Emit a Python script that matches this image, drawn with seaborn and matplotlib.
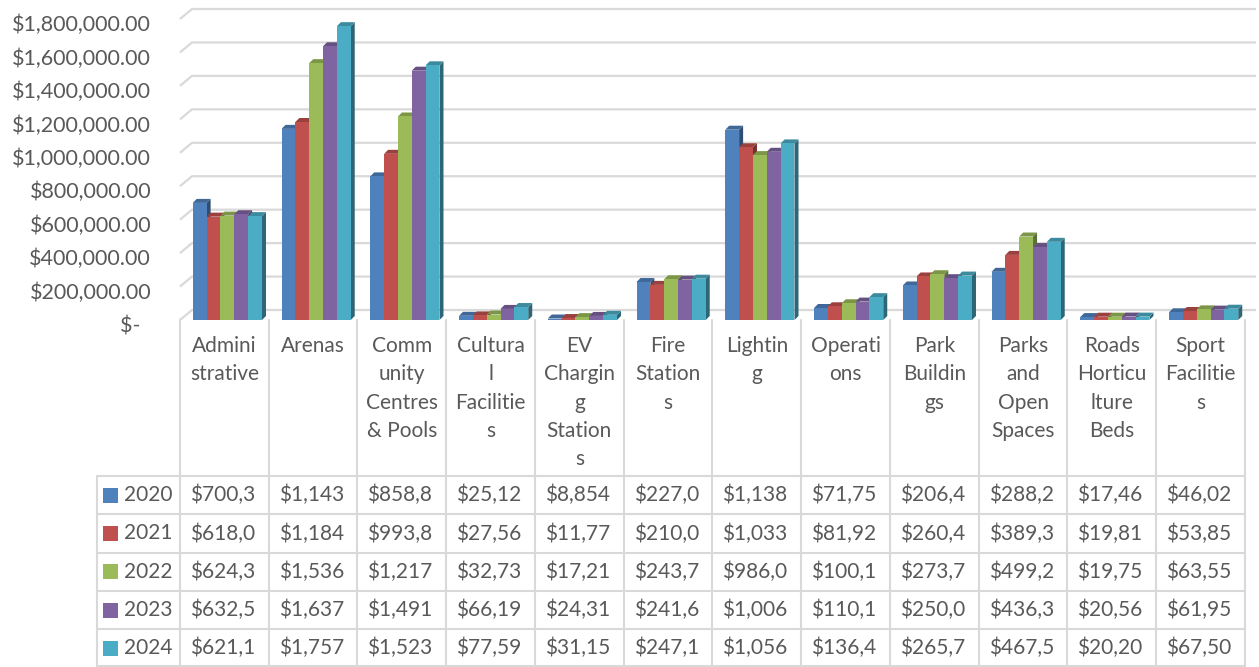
import numpy as np
import pandas as pd
import seaborn as sns
import matplotlib
matplotlib.use("Agg")
import matplotlib.pyplot as plt
from matplotlib.patches import Polygon, Rectangle
import matplotlib.transforms as mtransforms
import matplotlib.colors as mcolors

# ---------------- data ----------------
categories = ["Administrative", "Arenas", "Community Centres & Pools", "Cultural Facilities",
              "EV Charging Stations", "Fire Stations", "Lighting", "Operations",
              "Park Buildings", "Parks and Open Spaces", "Roads Horticulture Beds",
              "Sport Facilities"]
header_labels = ["Admini\nstrative", "Arenas", "Comm\nunity\nCentres\n& Pools",
                 "Cultura\nl\nFacilitie\ns", "EV\nChargin\ng\nStation\ns",
                 "Fire\nStation\ns", "Lightin\ng", "Operati\nons", "Park\nBuildin\ngs",
                 "Parks\nand\nOpen\nSpaces", "Roads\nHorticu\nlture\nBeds",
                 "Sport\nFacilitie\ns"]
years = ["2020", "2021", "2022", "2023", "2024"]
v2020 = [700300, 1143000, 858800, 25120, 8854, 227000, 1138000, 71750, 206400, 288200, 17460, 46020]
v2021 = [618000, 1184000, 993800, 27560, 11770, 210000, 1033000, 81920, 260400, 389300, 19810, 53850]
v2022 = [624300, 1536000, 1217000, 32730, 17210, 243700, 986000, 100100, 273700, 499200, 19750, 63550]
v2023 = [632500, 1637000, 1491000, 66190, 24310, 241600, 1006000, 110100, 250000, 436300, 20560, 61950]
v2024 = [621100, 1757000, 1523000, 77590, 31150, 247100, 1056000, 136400, 265700, 467500, 20200, 67500]
series = [v2020, v2021, v2022, v2023, v2024]
yticks = [0, 200000, 400000, 600000, 800000, 1000000, 1200000, 1400000, 1600000, 1800000]
colors = ["#4F81BD", "#C0504D", "#9BBB59", "#8064A2", "#4BACC6"]

TXT = "#595959"
GRID = "#D9D9D9"

sns.set_theme(style="white")
plt.rcParams["font.family"] = ["Lato", "DejaVu Sans"]

W, H, DPI = 1259, 667, 100
fig = plt.figure(figsize=(W / DPI, H / DPI), dpi=DPI)
fig.patch.set_facecolor("white")

# pixel overlay axes (behind the chart) for gridlines and table
pax = fig.add_axes([0, 0, 1, 1], zorder=-1)
pax.set_xlim(0, W)
pax.set_ylim(H, 0)
pax.axis("off")

# main chart axes (front plane)
y_zero, y_top = 320, 19
ax = fig.add_axes([183 / W, 1 - y_zero / H, 1065 / W, (y_zero - y_top) / H], zorder=1)
ax.patch.set_visible(False)

df = pd.DataFrame({
    "category": np.repeat(categories, len(years)),
    "year": years * len(categories),
    "value": [series[j][i] for i in range(len(categories)) for j in range(len(years))],
})
sns.barplot(data=df, x="category", y="value", hue="year", order=categories,
            hue_order=years, palette=colors, saturation=1, width=0.78,
            linewidth=0, legend=False, ax=ax)
ax.set_xlim(-0.5, len(categories) - 0.5)
ax.set_ylim(0, 1800000)
ax.set_xticks([])
ax.set_yticks(yticks)
ax.set_yticklabels(["$-  "] + [f"${v:,.2f}" for v in yticks[1:]])
ax.tick_params(axis="y", length=0, pad=23, labelsize=15.5, labelcolor=TXT)
for lbl in ax.get_yticklabels():
    lbl.set_y(lbl.get_position()[1])
ax.set_xlabel("")
ax.set_ylabel("")
for s in ax.spines.values():
    s.set_visible(False)
# nudge tick labels slightly down (front-plane label position)
offset = mtransforms.ScaledTranslation(0, -3 / 72, fig.dpi_scale_trans)
for lbl in ax.get_yticklabels():
    lbl.set_transform(lbl.get_transform() + offset)

# gridlines with 3D back-wall offset
DX, DY = 12, 10
for v in yticks:
    fx, fy = ax.transData.transform((-0.5, v))
    fx -= 3
    fy = H - fy
    pax.plot([fx, fx + DX, W - 3], [fy, fy - DY, fy - DY], color=GRID, lw=1.6,
             solid_capstyle="butt", zorder=1)

# 3D faces of bars
ident = mtransforms.IdentityTransform()
d = 4
for p in list(ax.patches):
    x0, y0 = ax.transData.transform((p.get_x(), 0))
    x1, y1 = ax.transData.transform((p.get_x() + p.get_width(), p.get_height()))
    base = np.array(mcolors.to_rgb(p.get_facecolor()))
    side = Polygon([(x1, y0), (x1 + d, y0 + d), (x1 + d, y1 + d), (x1, y1)],
                   closed=True, transform=ident, facecolor=base * 0.6,
                   edgecolor="none", zorder=0.8, clip_on=False)
    top = Polygon([(x0, y1), (x0 + d, y1 + d), (x1 + d, y1 + d), (x1, y1)],
                  closed=True, transform=ident, facecolor=base * 0.8,
                  edgecolor="none", zorder=0.8, clip_on=False)
    ax.add_patch(side)
    ax.add_patch(top)
    p.set_zorder(1)

# ---------------- data table ----------------
col0, colw = 180, 88.75
ncol = len(categories)
row_top, row_h = 476, 38.3
leg_left = 97
for i in range(ncol + 1):
    x = col0 + i * colw
    pax.plot([x, x], [320, H], color=GRID, lw=1.5, zorder=1)
pax.plot([leg_left, leg_left], [row_top, H], color=GRID, lw=1.5, zorder=1)
for k in range(len(years) + 1):
    y = min(row_top + k * row_h, H - 1)
    pax.plot([leg_left, col0 + ncol * colw], [y, y], color=GRID, lw=1.5, zorder=1)

for i, lab in enumerate(header_labels):
    pax.text(col0 + (i + 0.5) * colw, 336, lab, ha="center", va="top",
             fontsize=15, color=TXT, linespacing=1.52)

for j, yr in enumerate(years):
    yc = row_top + (j + 0.5) * row_h
    pax.add_patch(Rectangle((103, yc - 7.5), 15, 15, facecolor=colors[j],
                            edgecolor="none", zorder=2))
    pax.text(124, yc, yr, ha="left", va="center", fontsize=15, color=TXT)
    for i in range(ncol):
        s = f"${series[j][i]:,.2f}"[:6]
        pax.text(col0 + i * colw + 10, yc, s, ha="left", va="center",
                 fontsize=15, color=TXT)

fig.savefig("out.png", dpi=DPI, facecolor="white")
